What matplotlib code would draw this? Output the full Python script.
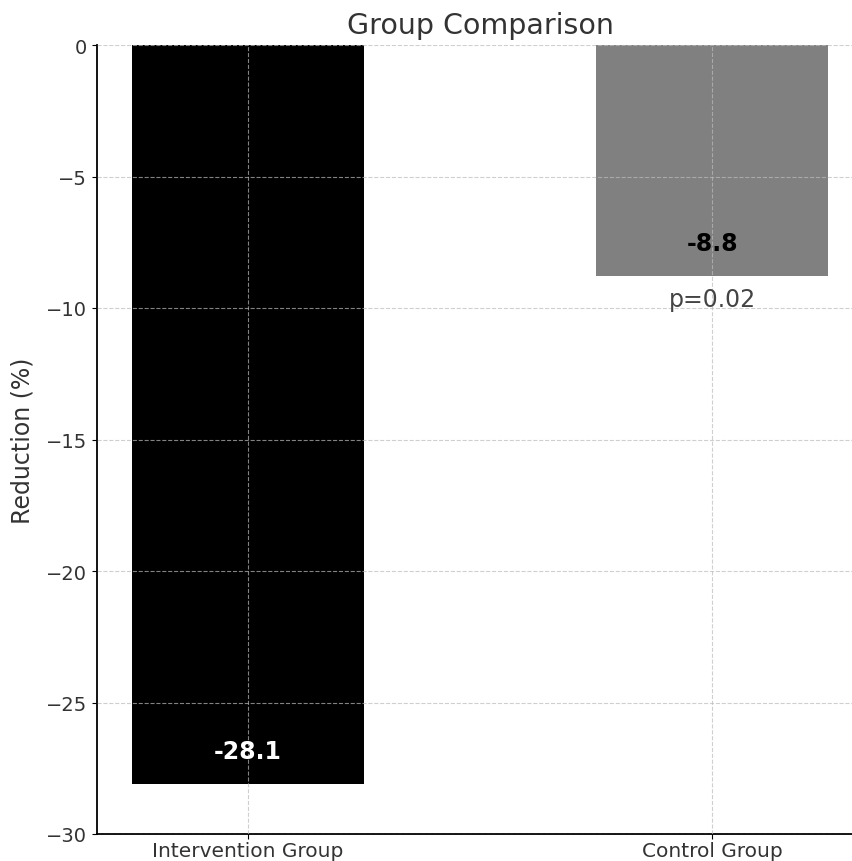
import matplotlib
matplotlib.use("Agg")
import matplotlib.pyplot as plt

categories = ["Intervention Group", "Control Group"]
values = [-28.1, -8.8]
colors = ["black", "gray"]
label_colors = ["white", "black"]
p_text = "p=0.02"
yticks = [0, -5, -10, -15, -20, -25, -30]

fig = plt.figure(figsize=(8.53, 8.62), dpi=100)
ax = fig.add_axes([97/853, 1-835/862, (863-97)/853, (835-46)/862])
bars = ax.bar(categories, values, color=colors, width=0.5)
ax.set_ylim(-30, 0)
ax.set_yticks(yticks)
ax.set_xlim(-0.325, 1.325)
ax.grid(True, linestyle="--", color="#bbbbbb", linewidth=0.8, alpha=0.7)
ax.set_axisbelow(False)
for s in ["top", "right"]:
    ax.spines[s].set_visible(False)
ax.spines["left"].set_linewidth(1.3)
ax.spines["bottom"].set_linewidth(1.3)

for i, v in enumerate(values):
    ax.text(i, v + 1, f"{v}", ha="center", va="baseline", color=label_colors[i],
            fontsize=17, fontweight="bold")
ax.text(1, values[1] - 0.4, p_text, ha="center", va="top", color="#444444", fontsize=17)

ax.set_title("Group Comparison", fontsize=20.5, pad=9, color="#333333")
ax.set_ylabel("Reduction (%)", fontsize=17, labelpad=8, color="#333333")
ax.tick_params(axis="y", labelsize=14, labelcolor="#333333")
ax.tick_params(axis="x", labelsize=14.5, labelcolor="#333333", pad=1.5)

fig.savefig("out.png", dpi=100)
